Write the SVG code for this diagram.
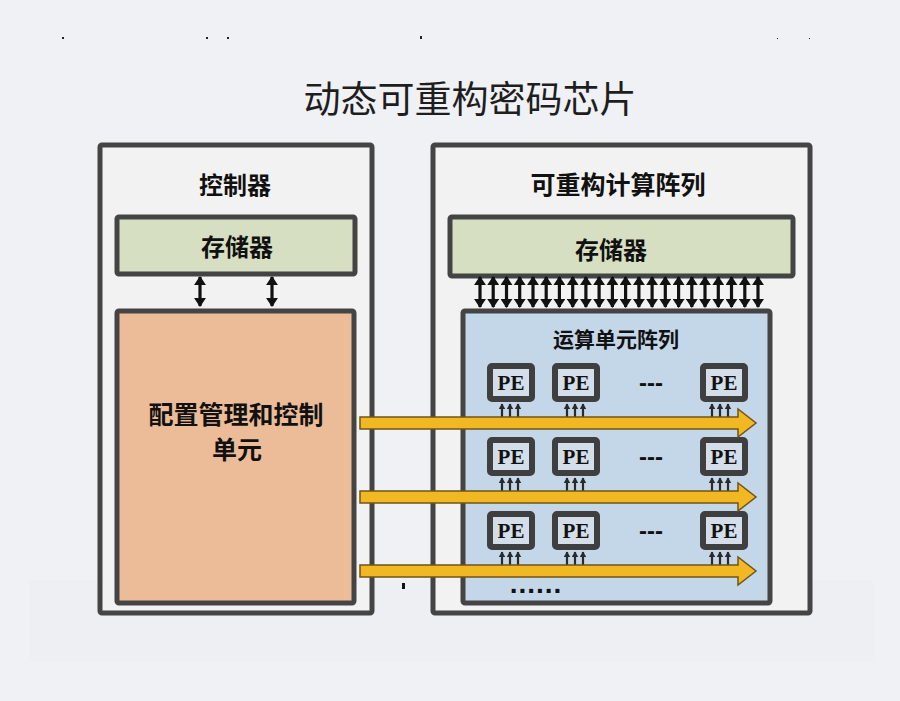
<svg xmlns="http://www.w3.org/2000/svg" width="900" height="701" viewBox="0 0 900 701">
<defs>
<style>
.cjk{font-family:"Noto Sans CJK SC","Noto Sans",sans-serif;fill:#111;text-anchor:middle;dominant-baseline:central}
.b{font-weight:700}
.outer{fill:#f2f2f2;stroke:#444;stroke-width:5}
.store{fill:#d6dfc2;stroke:#444;stroke-width:5}
.pe rect{fill:#d4deea;stroke:#3f3f3f;stroke-width:6}
.pe text{font-family:"Liberation Serif","Times New Roman",serif;font-weight:700;font-size:21px;fill:#111;text-anchor:middle}
.dbl{stroke:#111;stroke-width:3.2;marker-start:url(#ah);marker-end:url(#ah)}
.up{stroke:#2a2a2a;stroke-width:2.2;marker-end:url(#sh)}
.yl{fill:#f2b824;stroke:#6e5419;stroke-width:1.5;stroke-linejoin:miter}
.dots{font-family:"Liberation Sans",Arial,sans-serif;font-weight:700;fill:#111;text-anchor:middle}
</style>
<marker id="ah" viewBox="0 0 10 10" refX="9" refY="5" markerUnits="userSpaceOnUse" markerWidth="9" markerHeight="12" orient="auto-start-reverse" preserveAspectRatio="none">
<path d="M0,0 L10,5 L0,10 z" fill="#111"/>
</marker>
<marker id="sh" viewBox="0 0 10 10" refX="9" refY="5" markerUnits="userSpaceOnUse" markerWidth="6" markerHeight="7" orient="auto-start-reverse" preserveAspectRatio="none">
<path d="M0,0 L10,5 L0,10 z" fill="#2a2a2a"/>
</marker>
</defs>
<rect x="0" y="0" width="900" height="701" fill="#eff1f5"/>
<rect x="29" y="580" width="844" height="82" fill="#edeff2"/>
<g id="specks" fill="#222">
<rect x="62" y="37" width="2" height="2"/>
<rect x="206" y="37" width="2" height="2"/>
<rect x="227" y="37" width="2" height="2"/>
<rect x="420" y="36" width="2" height="3"/>
<rect x="777" y="38" width="1" height="1"/>
<rect x="809" y="38" width="1" height="1"/>
</g>
<text class="cjk" x="470" y="97" font-size="37" style="fill:#1e1e1e">动态可重构密码芯片</text>

<g id="controller">
<rect class="outer" x="100" y="145" width="272" height="468" rx="2"/>
<text class="cjk b" x="235" y="183" font-size="24">控制器</text>
</g>
<g id="ctrl-memory">
<rect class="store" x="117" y="217" width="238" height="57" rx="2"/>
<text class="cjk b" x="237" y="245" font-size="24">存储器</text>
</g>
<g id="config-unit">
<rect x="117" y="311" width="237" height="292" rx="2" fill="#ecbc98" stroke="#444" stroke-width="5"/>
<text class="cjk b" x="236" y="413" font-size="25">配置管理和控制</text>
<text class="cjk b" x="237" y="448" font-size="25">单元</text>
</g>

<g id="rca">
<rect class="outer" x="433" y="145" width="377" height="468" rx="2"/>
<text class="cjk b" x="618" y="183" font-size="25">可重构计算阵列</text>
</g>
<g id="rca-memory">
<rect class="store" x="450" y="217" width="343" height="59" rx="2"/>
<text class="cjk b" x="611" y="248" font-size="24">存储器</text>
</g>
<g id="pe-array">
<rect x="463" y="311" width="307" height="292" rx="2" fill="#c4d7e8" stroke="#444" stroke-width="5"/>
<text class="cjk b" x="616" y="338" font-size="21">运算单元阵列</text>
<text class="dots" x="651" y="391" font-size="24">---</text>
<text class="dots" x="651" y="465" font-size="24">---</text>
<text class="dots" x="651" y="539" font-size="24">---</text>
<text class="dots" x="536" y="593" font-size="28" letter-spacing="1">......</text>
</g>
<g id="pe-r1c1" class="pe"><rect x="490" y="366" width="42" height="33" rx="2"/><text x="511" y="390">PE</text></g>
<g id="pe-r1c2" class="pe"><rect x="555" y="366" width="42" height="33" rx="2"/><text x="576" y="390">PE</text></g>
<g id="pe-r1c3" class="pe"><rect x="703" y="366" width="42" height="33" rx="2"/><text x="724" y="390">PE</text></g>
<g id="pe-r2c1" class="pe"><rect x="490" y="440" width="42" height="33" rx="2"/><text x="511" y="464">PE</text></g>
<g id="pe-r2c2" class="pe"><rect x="555" y="440" width="42" height="33" rx="2"/><text x="576" y="464">PE</text></g>
<g id="pe-r2c3" class="pe"><rect x="703" y="440" width="42" height="33" rx="2"/><text x="724" y="464">PE</text></g>
<g id="pe-r3c1" class="pe"><rect x="490" y="514" width="42" height="33" rx="2"/><text x="511" y="538">PE</text></g>
<g id="pe-r3c2" class="pe"><rect x="555" y="514" width="42" height="33" rx="2"/><text x="576" y="538">PE</text></g>
<g id="pe-r3c3" class="pe"><rect x="703" y="514" width="42" height="33" rx="2"/><text x="724" y="538">PE</text></g>

<g id="connectors">
<line class="dbl" x1="200" y1="277" x2="200" y2="306"/>
<line class="dbl" x1="272" y1="277" x2="272" y2="306"/>
<g id="bus">
<line class="dbl" x1="480" y1="277" x2="480" y2="307"/>
<line class="dbl" x1="493.2" y1="277" x2="493.2" y2="307"/>
<line class="dbl" x1="506.5" y1="277" x2="506.5" y2="307"/>
<line class="dbl" x1="519.7" y1="277" x2="519.7" y2="307"/>
<line class="dbl" x1="533" y1="277" x2="533" y2="307"/>
<line class="dbl" x1="546.2" y1="277" x2="546.2" y2="307"/>
<line class="dbl" x1="559.4" y1="277" x2="559.4" y2="307"/>
<line class="dbl" x1="572.7" y1="277" x2="572.7" y2="307"/>
<line class="dbl" x1="585.9" y1="277" x2="585.9" y2="307"/>
<line class="dbl" x1="599.1" y1="277" x2="599.1" y2="307"/>
<line class="dbl" x1="612.4" y1="277" x2="612.4" y2="307"/>
<line class="dbl" x1="625.6" y1="277" x2="625.6" y2="307"/>
<line class="dbl" x1="638.9" y1="277" x2="638.9" y2="307"/>
<line class="dbl" x1="652.1" y1="277" x2="652.1" y2="307"/>
<line class="dbl" x1="665.3" y1="277" x2="665.3" y2="307"/>
<line class="dbl" x1="678.6" y1="277" x2="678.6" y2="307"/>
<line class="dbl" x1="691.8" y1="277" x2="691.8" y2="307"/>
<line class="dbl" x1="705" y1="277" x2="705" y2="307"/>
<line class="dbl" x1="718.3" y1="277" x2="718.3" y2="307"/>
<line class="dbl" x1="731.5" y1="277" x2="731.5" y2="307"/>
<line class="dbl" x1="744.8" y1="277" x2="744.8" y2="307"/>
<line class="dbl" x1="758" y1="277" x2="758" y2="307"/>
</g>
<g id="pe-inputs">
<line class="up" x1="502" y1="418" x2="502" y2="404"/><line class="up" x1="510" y1="418" x2="510" y2="404"/><line class="up" x1="518" y1="418" x2="518" y2="404"/>
<line class="up" x1="567" y1="418" x2="567" y2="404"/><line class="up" x1="575" y1="418" x2="575" y2="404"/><line class="up" x1="583" y1="418" x2="583" y2="404"/>
<line class="up" x1="712" y1="418" x2="712" y2="404"/><line class="up" x1="720" y1="418" x2="720" y2="404"/><line class="up" x1="728" y1="418" x2="728" y2="404"/>
<line class="up" x1="502" y1="492" x2="502" y2="478"/><line class="up" x1="510" y1="492" x2="510" y2="478"/><line class="up" x1="518" y1="492" x2="518" y2="478"/>
<line class="up" x1="567" y1="492" x2="567" y2="478"/><line class="up" x1="575" y1="492" x2="575" y2="478"/><line class="up" x1="583" y1="492" x2="583" y2="478"/>
<line class="up" x1="712" y1="492" x2="712" y2="478"/><line class="up" x1="720" y1="492" x2="720" y2="478"/><line class="up" x1="728" y1="492" x2="728" y2="478"/>
<line class="up" x1="502" y1="566" x2="502" y2="552"/><line class="up" x1="510" y1="566" x2="510" y2="552"/><line class="up" x1="518" y1="566" x2="518" y2="552"/>
<line class="up" x1="567" y1="566" x2="567" y2="552"/><line class="up" x1="575" y1="566" x2="575" y2="552"/><line class="up" x1="583" y1="566" x2="583" y2="552"/>
<line class="up" x1="712" y1="566" x2="712" y2="552"/><line class="up" x1="720" y1="566" x2="720" y2="552"/><line class="up" x1="728" y1="566" x2="728" y2="552"/>
</g>
<polygon class="yl" points="360,417 738,417 738,409 756,423 738,437 738,429 360,429"/>
<polygon class="yl" points="360,491 738,491 738,483 756,497 738,511 738,503 360,503"/>
<polygon class="yl" points="360,565 738,565 738,557 756,571 738,585 738,577 360,577"/>
</g>
<rect x="402" y="583" width="3" height="6" fill="#111"/>
</svg>
